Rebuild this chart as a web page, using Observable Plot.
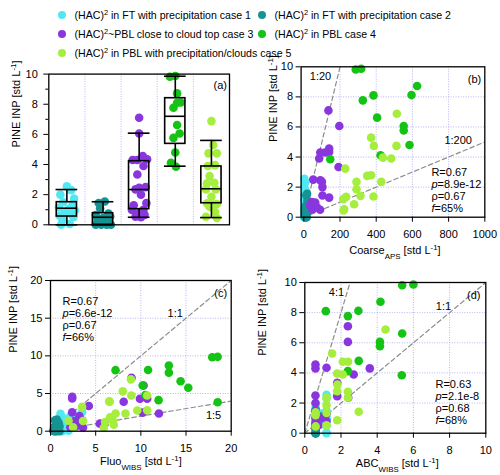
<!DOCTYPE html>
<html>
<head>
<meta charset="utf-8">
<script src="https://cdn.jsdelivr.net/npm/d3@7"></script>
<script src="https://cdn.jsdelivr.net/npm/@observablehq/plot@0.6"></script>
<style>
  html, body { margin: 0; padding: 0; background: #fff; }
  #root { position: relative; width: 500px; height: 475px; overflow: hidden; font-family: "Liberation Sans", Arial, sans-serif; color: #000; }
  .panel { position: absolute; }
  .panel svg { display: block; overflow: visible; }
  .leg { position: absolute; height: 0; }
  .leg .dot { position: absolute; left: -4.4px; top: -4.4px; width: 8.8px; height: 8.8px; border-radius: 50%; }
  .leg .txt { position: absolute; top: -7px; white-space: nowrap; font-size: 10.6px; line-height: 14px; }
  .leg sup { font-size: 70%; line-height: 0; vertical-align: 0.55em; }
</style>
</head>
<body>
<div id="root"></div>
<script>
// ---------------- data ----------------
const caseLabels = [
  "(HAC)^{2} in FT with precipitation case 1",
  "(HAC)^{2} in FT with precipitation case 2",
  "(HAC)^{2}~PBL close to cloud top case 3",
  "(HAC)^{2} in PBL case 4",
  "(HAC)^{2} in PBL with precipitation/clouds case 5"
];
const caseColors = ["#52e8f2", "#169393", "#8a36de", "#15c315", "#a6ee3e"];

// PINE INP [std L-1] per case
const inp1 = [2.55, 2.3, 2.0, 1.75, 1.5, 1.3, 1.15, 1.05, 0.95, 0.85, 0.75, 0.6, 0.5, 0.3, 0.05, 0.0];
const inp2 = [1.55, 1.45, 1.1, 0.75, 0.65, 0.55, 0.45, 0.35, 0.25, 0.1, 0.0, 0.0, 0.0, 0.0];
const inp3 = [7.1, 6.06, 4.56, 4.34, 4.3, 4.3, 3.9, 3.34, 2.5, 2.46, 2.35, 2.0, 1.44, 1.3, 1.0, 0.98, 0.8, 0.66, 0.53, 0.5];
const inp4 = [9.87, 9.82, 8.72, 8.12, 8.1, 7.77, 6.62, 6.06, 5.77, 4.8, 4.12, 3.85];
const inp5 = [6.88, 5.29, 4.74, 4.74, 3.96, 3.9, 3.23, 2.79, 2.75, 2.35, 2.35, 1.86, 1.42, 1.38, 1.35, 1.2, 0.86, 0.53, 0.45];

// Coarse_APS [std L-1]
const coarse1 = [3, 8, 2, 12, 4, 9, 3, 15, 6, 10, 5, 14, 2, 7, 4, 1];
const coarse2 = [18, 14, 20, 10, 16, 8, 12, 22, 6, 14, 10, 8, 16, 12];
const coarse3 = [136, 196, 140, 140, 118, 91, 85, 192, 52, 91, 100, 103, 103, 140, 44, 63, 35, 72, 48, 90];
const coarse4 = [317, 287, 626, 595, 385, 326, 405, 552, 552, 584, 424, 146];
const coarse5 = [514, 372, 387, 512, 437, 483, 229, 372, 350, 291, 428, 291, 313, 385, 234, 218, 278, 223, 220];

// Fluo_WIBS [std L-1]
const fluo1 = [3.5, 1.1, 2.2, 1.4, 2.6, 0.9, 1.8, 3.1, 1.2, 2.0, 0.8, 2.4, 1.5, 1.0, 2.0, 1.3];
const fluo2 = [0.7, 0.5, 0.9, 0.6, 1.0, 0.4, 0.8, 0.5, 0.7, 0.3, 0.5, 1.0, 0.7, 0.4];
const fluo3 = [8.97, 10.3, 2.4, 2.4, 10.7, 9.9, 8.1, 4.24, 2.4, 10.2, 12.0, 3.2, 3.5, 2.6, 5.46, 6.0, 3.3, 2.8, 2.2, 3.6];
const fluo4 = [18.5, 17.9, 13.1, 10.8, 7.2, 13.1, 14.4, 10.2, 15.25, 10.5, 11.96, 18.5];
const fluo5 = [8.9, 8.0, 8.95, 10.7, 6.5, 6.55, 3.5, 10.7, 9.6, 8.3, 7.2, 6.6, 6.9, 2.0, 3.6, 6.05, 7.0, 2.5, 5.9];

// ABC_WIBS [std L-1]
const abc1 = [1.2, 1.2, 0.6, 0.6, 1.2, 0.9, 0.6, 1.2, 1.2, 0.75, 0.6, 0.9, 1.2, 0.6, 1.2, 1.2];
const abc2 = [0.6, 0.6, 0.9, 0.6, 0.6, 0.6, 0.6, 0.6, 0.6, 0.6, 0.6, 0.6, 0.6, 0.6];
const abc3 = [2.38, 2.38, 0.59, 1.2, 3.59, 0.59, 2.7, 1.79, 0.59, 1.79, 2.4, 0.59, 0.59, 1.2, 0.59, 0.85, 1.2, 0.6, 0.75, 0.6];
const abc4 = [6.0, 5.38, 4.18, 2.96, 1.16, 2.38, 5.38, 4.15, 4.15, 2.98, 2.38, 5.36];
const abc5 = [4.46, 1.51, 2.1, 2.39, 1.79, 2.1, 1.8, 1.79, 2.38, 2.38, 1.2, 1.2, 2.98, 0.6, 1.2, 0.6, 1.79, 1.2, 0.6];

// horizontal jitter of the dots in panel (a), in category units
const jit1 = [0.0, 0.12, -0.18, 0.2, -0.1, 0.15, -0.22, 0.05, 0.22, -0.05, 0.1, -0.2, 0.18, -0.12, 0.08, -0.16];
const jit2 = [0.05, -0.12, -0.08, 0.15, -0.2, 0.2, 0.0, -0.15, 0.1, 0.18, -0.2, -0.05, 0.1, 0.22];
const jit3 = [0.0, 0.0, 0.1, 0.22, -0.05, -0.18, 0.12, -0.05, 0.18, 0.0, -0.1, 0.05, 0.2, -0.15, 0.12, -0.2, 0.0, 0.15, -0.1, 0.05];
const jit4 = [0.0, -0.15, 0.05, 0.15, 0.05, -0.05, 0.05, 0.12, -0.05, 0.0, -0.12, 0.02];
const jit5 = [0.0, 0.05, 0.15, -0.08, 0.1, -0.1, -0.05, 0.08, -0.12, 0.12, -0.15, 0.0, -0.12, 0.15, 0.05, -0.05, 0.1, -0.15, 0.15];

// box statistics per case (panel a)
const boxLo     = [0.0, 0.0, 0.5, 3.89, 0.48];
const boxQ1     = [0.55, 0.0, 1.04, 5.37, 1.43];
const boxMedian = [1.1, 0.5, 2.34, 7.2, 2.39];
const boxQ3     = [1.5, 0.77, 4.22, 8.4, 3.87];
const boxHi     = [2.34, 1.53, 6.08, 9.86, 5.6];

// ticks
const yTicksA = [0, 2, 4, 6, 8, 10];
const yMinorA = [1, 3, 5, 7, 9];
const xTicksB = [0, 200, 400, 600, 800, 1000];
const yTicks10 = [0, 2, 4, 6, 8, 10];
const xTicksC = [0, 5, 10, 15, 20];
const yTicksC = [0, 5, 10, 15, 20];
const xTicksD = [0, 2, 4, 6, 8, 10];

// ratio lines and statistics
const ratioNamesB = ["1:20", "1:200"];
const ratioSlopesB = [1 / 20, 1 / 200];
const ratioNamesC = ["1:1", "1:5"];
const ratioSlopesC = [1, 1 / 5];
const ratioNamesD = ["4:1", "1:1"];
const ratioSlopesD = [4, 1];
const statsB = ["R=0.67", "*p*=8.9e-12", "ρ=0.67", "*f*=65%"];
const statsC = ["R=0.67", "*p*=6.6e-12", "ρ=0.67", "*f*=66%"];
const statsD = ["R=0.63", "*p*=2.1e-8", "ρ=0.68", "*f*=68%"];

const yLabel = "PINE INP [std L^{-1}]";
const xLabelB = "Coarse_{APS} [std L^{-1}]";
const xLabelC = "Fluo_{WIBS} [std L^{-1}]";
const xLabelD = "ABC_{WIBS} [std L^{-1}]";

// ---------------- helpers ----------------
const cases = [
  {inp: inp1, coarse: coarse1, fluo: fluo1, abc: abc1, jit: jit1},
  {inp: inp2, coarse: coarse2, fluo: fluo2, abc: abc2, jit: jit2},
  {inp: inp3, coarse: coarse3, fluo: fluo3, abc: abc3, jit: jit3},
  {inp: inp4, coarse: coarse4, fluo: fluo4, abc: abc4, jit: jit4},
  {inp: inp5, coarse: coarse5, fluo: fluo5, abc: abc5, jit: jit5}
];
const FONT = '"Liberation Sans", Arial, sans-serif';
const GRID = "#b4b4f4";
const REF = "#8c8c8c";
const R = 4.3;
const fmt = d => String(d);
const baseStyle = {fontFamily: FONT, fontSize: "11px", background: "transparent", color: "#000"};
const root = document.getElementById("root");

function rich(s) {
  return s.replace(/&/g, "&amp;").replace(/</g, "&lt;")
    .replace(/\*([^*]+)\*/g, '<tspan font-style="italic">$1</tspan>')
    .replace(/_\{([^}]*)\}/g, '<tspan baseline-shift="sub" font-size="72%">$1</tspan>')
    .replace(/\^\{([^}]*)\}/g, '<tspan baseline-shift="super" font-size="72%">$1</tspan>');
}
function enrich(svg) {
  svg.querySelectorAll("text, tspan").forEach(el => {
    if (el.children.length) return;
    const s = el.textContent;
    if (!/[\^_]\{|\*/.test(s)) return;
    el.innerHTML = rich(s);
  });
}
function place(svg, left, top) {
  const div = document.createElement("div");
  div.className = "panel";
  div.style.left = left + "px";
  div.style.top = top + "px";
  div.appendChild(svg);
  root.appendChild(div);
  enrich(svg);
}

// ---------------- legend ----------------
const legendPos = [[62, 15], [262, 15], [62, 34], [262, 34], [62, 53]];
caseLabels.forEach((lab, k) => {
  const d = document.createElement("div");
  d.className = "leg";
  d.style.left = legendPos[k][0] + "px";
  d.style.top = legendPos[k][1] + "px";
  const dot = document.createElement("span");
  dot.className = "dot";
  dot.style.background = caseColors[k];
  const t = document.createElement("span");
  t.className = "txt";
  t.style.left = "12.5px";
  t.innerHTML = lab.replace(/\^\{([^}]*)\}/g, "<sup>$1</sup>");
  d.appendChild(dot); d.appendChild(t);
  root.appendChild(d);
});

// ---------------- panel (a) ----------------
const boxRows = boxMedian.map((m, i) => ({k: i + 1, lo: boxLo[i], q1: boxQ1[i], med: m, q3: boxQ3[i], hi: boxHi[i]}));
const BW = 0.28, CW = 0.3;
const boxStroke = {stroke: "#000", strokeWidth: 1.6};
const svgA = Plot.plot({
  width: 245, height: 190,
  marginLeft: 48.3, marginRight: 16, marginTop: 13.6, marginBottom: 25.7,
  style: baseStyle,
  x: {domain: [0.5, 5.5], axis: null, label: null},
  y: {domain: [0, 10], label: null},
  marks: [
    Plot.ruleX([1.5, 2.5, 3.5, 4.5], {stroke: GRID, strokeDasharray: "1,1.5"}),
    ...cases.map((c, k) => Plot.dot(c.inp.map((y, i) => ({x: k + 1 + c.jit[i], y})), {x: "x", y: "y", r: R, fill: caseColors[k]})),
    Plot.ruleX(boxRows, {x: "k", y1: "lo", y2: "q1", ...boxStroke}),
    Plot.ruleX(boxRows, {x: "k", y1: "q3", y2: "hi", ...boxStroke}),
    Plot.rect(boxRows, {x1: d => d.k - BW, x2: d => d.k + BW, y1: "q1", y2: "q3", fill: "none", ...boxStroke}),
    Plot.ruleY(boxRows, {y: "med", x1: d => d.k - BW, x2: d => d.k + BW, ...boxStroke}),
    Plot.ruleY(boxRows, {y: "lo", x1: d => d.k - CW, x2: d => d.k + CW, ...boxStroke}),
    Plot.ruleY(boxRows, {y: "hi", x1: d => d.k - CW, x2: d => d.k + CW, ...boxStroke}),
    Plot.axisY(yTicksA, {tickSize: 5, tickPadding: 6, tickFormat: fmt, label: null}),
    Plot.axisY(yMinorA, {tickSize: 3, tickFormat: () => "", label: null}),
    Plot.frame({stroke: "#000", strokeWidth: 1.3}),
    Plot.text(["(a)"], {frameAnchor: "top-right", textAnchor: "end", lineAnchor: "middle", dx: -2.5, dy: 11.4, text: d => d}),
    Plot.text([yLabel], {frameAnchor: "left", rotate: -90, dx: -32.6, dy: -2, text: d => d})
  ]
});
place(svgA, 0, 60);

// ---------------- scatter panels ----------------
function scatter(cfg) {
  const xmax = cfg.xDomain[1];
  const refRows = cfg.slopes.flatMap((s, j) => [
    {x: 0, y: 0, name: cfg.ratioNames[j]},
    {x: xmax, y: s * xmax, name: cfg.ratioNames[j]}
  ]);
  return Plot.plot({
    width: cfg.w, height: cfg.h,
    marginLeft: cfg.m[0], marginRight: cfg.m[1], marginTop: cfg.m[2], marginBottom: cfg.m[3],
    style: baseStyle,
    x: {domain: cfg.xDomain, label: null},
    y: {domain: cfg.yDomain, label: null},
    marks: [
      Plot.ruleX(cfg.xGrid, {stroke: GRID, strokeDasharray: "1,1.5"}),
      Plot.ruleY(cfg.yGrid, {stroke: GRID, strokeDasharray: "1,1.5"}),
      Plot.line(refRows, {x: "x", y: "y", z: "name", stroke: REF, strokeWidth: 1.2, strokeDasharray: "4.5,3", clip: true}),
      ...cases.map((c, k) => Plot.dot(c.inp.map((y, i) => ({x: c[cfg.key][i], y})), {x: "x", y: "y", r: R, fill: caseColors[k]})),
      Plot.axisX(cfg.xTicks, {tickSize: 5, tickPadding: 8, tickFormat: fmt, label: null}),
      Plot.axisY(cfg.yTicks, {tickSize: 5, tickPadding: 3, tickFormat: fmt, label: null}),
      Plot.frame({stroke: "#000", strokeWidth: 1.3}),
      Plot.text(cfg.ratioNames, {x: (d, i) => cfg.ratioPos[i][0], y: (d, i) => cfg.ratioPos[i][1], text: d => d}),
      Plot.text([cfg.stats.join("\n")], {x: cfg.statsPos[0], y: cfg.statsPos[1], textAnchor: "start", lineAnchor: "middle", lineHeight: 1.1, text: d => d}),
      Plot.text([cfg.letter], {frameAnchor: "top-right", textAnchor: "end", lineAnchor: "middle", dx: cfg.letterOff[0], dy: cfg.letterOff[1], text: d => d}),
      Plot.text([yLabel], {frameAnchor: "left", rotate: -90, dx: cfg.ylOff[0], dy: cfg.ylOff[1], text: d => d}),
      Plot.text([cfg.xLabel], {frameAnchor: "bottom", lineAnchor: "middle", dx: cfg.xlOff[0], dy: cfg.xlOff[1], text: d => d})
    ]
  });
}

const svgB = scatter({
  key: "coarse", w: 250, h: 205, m: [50.6, 15.7, 11.3, 43.3],
  xDomain: [-15, 1000], yDomain: [0, 10],
  xGrid: [200, 400, 600, 800], yGrid: [2, 4, 6, 8],
  xTicks: xTicksB, yTicks: yTicks10,
  slopes: ratioSlopesB, ratioNames: ratioNamesB, ratioPos: [[92, 9.34], [853, 5.13]],
  stats: statsB, statsPos: [705, 1.78],
  letter: "(b)", letterOff: [-3.6, 12.4],
  ylOff: [-27.6, 0], xLabel: xLabelB, xlOff: [2, 33.5]
});
place(svgB, 250, 55);

const svgC = scatter({
  key: "fluo", w: 250, h: 210, m: [50, 19.3, 15, 44.3],
  xDomain: [0, 20], yDomain: [0, 20],
  xGrid: [5, 10, 15], yGrid: [5, 10, 15],
  xTicks: xTicksC, yTicks: yTicksC,
  slopes: ratioSlopesC, ratioNames: ratioNamesC, ratioPos: [[13.8, 15.6], [18.05, 2.08]],
  stats: statsC, statsPos: [1.33, 14.9],
  letter: "(c)", letterOff: [-4, 13.3],
  ylOff: [-36.7, -3], xLabel: xLabelC, xlOff: [0, 30.6]
});
place(svgC, 0, 265);

const svgD = scatter({
  key: "abc", w: 250, h: 210, m: [54.3, 14.7, 17, 42.3],
  xDomain: [0, 10], yDomain: [0, 10],
  xGrid: [2, 4, 6, 8], yGrid: [2, 4, 6, 8],
  xTicks: xTicksD, yTicks: yTicks10,
  slopes: ratioSlopesD, ratioNames: ratioNamesD, ratioPos: [[1.75, 9.34], [7.66, 8.43]],
  stats: statsD, statsPos: [7.22, 2.04],
  letter: "(d)", letterOff: [-5.3, 13],
  ylOff: [-42.6, -2], xLabel: xLabelD, xlOff: [2, 30.3]
});
place(svgD, 250, 265);
</script>
</body>
</html>
